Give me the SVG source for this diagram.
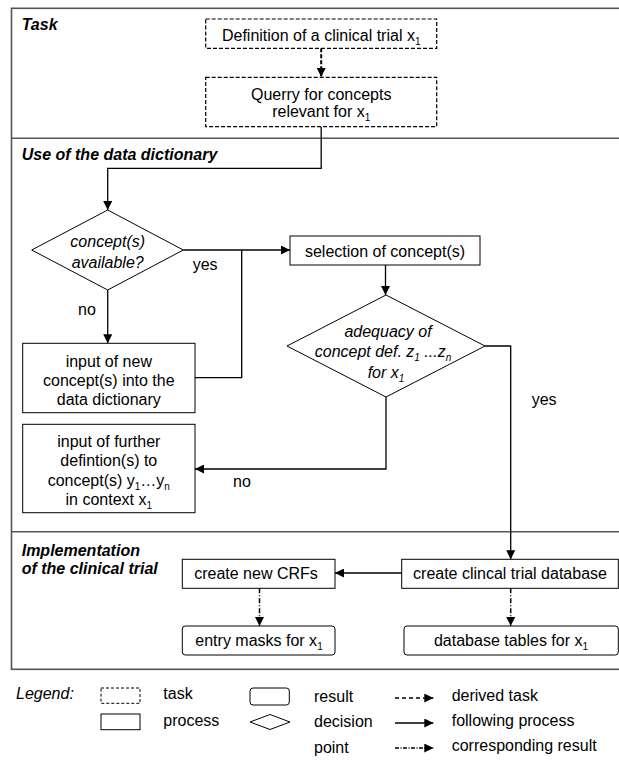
<svg xmlns="http://www.w3.org/2000/svg" width="619" height="763" viewBox="0 0 619 763">
<defs>
<style>
text{font-family:"Liberation Sans",Arial,sans-serif;font-size:16px;fill:#000}
.c{text-anchor:middle}
.lbl{font-weight:bold;font-style:italic}
.it{font-style:italic}
.sub{font-size:10px}
.frame{fill:none;stroke:#555;stroke-width:1.6}
.task{fill:#fff;stroke:#000;stroke-width:1.2;stroke-dasharray:4 2}
.proc{fill:#fff;stroke:#000;stroke-width:1}
.res{fill:#fff;stroke:#000;stroke-width:1}
.flow{fill:none;stroke:#000;stroke-width:1.3}
.der{fill:none;stroke:#000;stroke-width:2;stroke-dasharray:4 2}
.cor{fill:none;stroke:#000;stroke-width:1.5;stroke-dasharray:5 2 1 2}
</style>
<marker id="ah" viewBox="0 0 10 10" refX="10" refY="5" markerWidth="9" markerHeight="9" markerUnits="userSpaceOnUse" orient="auto"><path d="M0,0 L10,5 L0,10 z" fill="#000"/></marker>
</defs>
<rect width="619" height="763" fill="#fff"/>

<g id="swimlanes">
<rect class="frame" x="11.5" y="8.3" width="620" height="661"/>
<line class="frame" x1="11.5" y1="138.3" x2="619" y2="138.3"/>
<line class="frame" x1="11.5" y1="531.7" x2="619" y2="531.7"/>
<text class="lbl" x="21.7" y="29.5">Task</text>
<text class="lbl" x="21.7" y="160">Use of the data dictionary</text>
<text class="lbl" x="21.7" y="556">Implementation</text>
<text class="lbl" x="21.7" y="574.3">of the clinical trial</text>
</g>

<g id="connectors">
<line class="der" x1="321.2" y1="48.3" x2="321.2" y2="77" marker-end="url(#ah)"/>
<path class="flow" d="M321.2,126.7 V168.3 H107.7 V210" marker-end="url(#ah)"/>
<line class="flow" x1="183.3" y1="250" x2="290" y2="250" marker-end="url(#ah)"/>
<line class="flow" x1="107.7" y1="290" x2="107.7" y2="343.3" marker-end="url(#ah)"/>
<path class="flow" d="M195,377.7 H241.7 V250"/>
<line class="flow" x1="385.5" y1="265" x2="385.5" y2="295" marker-end="url(#ah)"/>
<path class="flow" d="M386,396.5 V469 H195" marker-end="url(#ah)"/>
<path class="flow" d="M485,346 H510.7 V559.3" marker-end="url(#ah)"/>
<line class="flow" x1="401.7" y1="573" x2="335" y2="573" marker-end="url(#ah)"/>
<line class="cor" x1="259.5" y1="588.3" x2="259.5" y2="626" marker-end="url(#ah)"/>
<line class="cor" x1="510.7" y1="588.3" x2="510.7" y2="626" marker-end="url(#ah)"/>
<text x="192.7" y="270">yes</text>
<text x="78" y="315">no</text>
<text x="233" y="486.7">no</text>
<text x="531.7" y="405">yes</text>
</g>

<g id="definition">
<rect class="task" x="205.7" y="19" width="231" height="29.3"/>
<text class="c" x="321.2" y="40.5">Definition of a clinical trial x<tspan class="sub" dy="4">1</tspan></text>
</g>

<g id="query">
<rect class="task" x="205.7" y="77.3" width="231" height="49.4"/>
<text class="c" x="321.2" y="99.5">Querry for concepts</text>
<text class="c" x="321.2" y="117.3">relevant for x<tspan class="sub" dy="4">1</tspan></text>
</g>

<g id="available">
<polygon class="proc" points="107.7,210 183.3,250 107.7,290 31.7,250"/>
<text class="c it" x="107.7" y="247">concept(s)</text>
<text class="c it" x="107.7" y="267.5">available?</text>
</g>

<g id="selection">
<rect class="proc" x="290" y="236" width="190" height="29"/>
<text class="c" x="385" y="257">selection of concept(s)</text>
</g>

<g id="input-new">
<rect class="proc" x="22.7" y="343.3" width="172.3" height="69.4"/>
<text class="c" x="108.8" y="366.5">input of new</text>
<text class="c" x="108.8" y="385.5">concept(s) into the</text>
<text class="c" x="108.8" y="405">data dictionary</text>
</g>

<g id="adequacy">
<polygon class="proc" points="386,295 485,346 386,397 287,346"/>
<text class="c it" x="388" y="336.5">adequacy of</text>
<text class="c it" x="383" y="357">concept def. z<tspan class="sub" dy="4">1</tspan><tspan dy="-4"> ...z</tspan><tspan class="sub" dy="4">n</tspan></text>
<text class="c it" x="386" y="377.5">for  x<tspan class="sub" dy="4">1</tspan></text>
</g>

<g id="input-further">
<rect class="proc" x="22.7" y="424.3" width="172.3" height="88.4"/>
<text class="c" x="108.8" y="446.5">input of further</text>
<text class="c" x="108.8" y="466">defintion(s) to</text>
<text class="c" x="108.8" y="485.5">concept(s) y<tspan class="sub" dy="4">1</tspan><tspan dy="-4">…y</tspan><tspan class="sub" dy="4">n</tspan></text>
<text class="c" x="108.8" y="505">in context x<tspan class="sub" dy="4">1</tspan></text>
</g>

<g id="create-db">
<rect class="proc" x="401.7" y="559.3" width="216.6" height="29"/>
<text class="c" x="510" y="579.3">create clincal trial database</text>
</g>

<g id="create-crfs">
<rect class="proc" x="182.3" y="559.3" width="152.7" height="29"/>
<text class="c" x="256" y="579.3">create new CRFs</text>
</g>

<g id="entry-masks">
<rect class="res" x="182.3" y="626" width="152.7" height="29" rx="3"/>
<text class="c" x="259" y="646">entry masks for x<tspan class="sub" dy="4">1</tspan></text>
</g>

<g id="db-tables">
<rect class="res" x="404" y="626" width="214.3" height="29" rx="3"/>
<text class="c" x="511" y="646">database tables for x<tspan class="sub" dy="4">1</tspan></text>
</g>

<g id="legend">
<text class="it" x="16" y="699">Legend:</text>
<rect x="101" y="688" width="39" height="15.3" fill="none" stroke="#000" stroke-width="1" stroke-dasharray="3 2"/>
<text x="163.3" y="699">task</text>
<rect x="101" y="714" width="39" height="15.7" fill="none" stroke="#000" stroke-width="1"/>
<text x="163.3" y="726">process</text>
<rect x="250" y="688" width="39.3" height="17" rx="3" fill="none" stroke="#000" stroke-width="1"/>
<text x="314" y="702">result</text>
<polygon points="250,722 270,714.5 290,722 270,729.5" fill="none" stroke="#000" stroke-width="1"/>
<text x="314" y="727">decision</text>
<text x="314" y="753">point</text>
<line x1="395" y1="698" x2="433.3" y2="698" stroke="#000" stroke-width="1.5" stroke-dasharray="4 3" marker-end="url(#ah)"/>
<text x="451.7" y="700.5">derived task</text>
<line x1="395" y1="723" x2="433.3" y2="723" stroke="#000" stroke-width="1.3" marker-end="url(#ah)"/>
<text x="451.7" y="725.5">following process</text>
<line x1="395" y1="748" x2="433.3" y2="748" stroke="#000" stroke-width="1.3" stroke-dasharray="4 1.5 1 1.5" marker-end="url(#ah)"/>
<text x="451.7" y="750.5">corresponding result</text>
</g>
</svg>
